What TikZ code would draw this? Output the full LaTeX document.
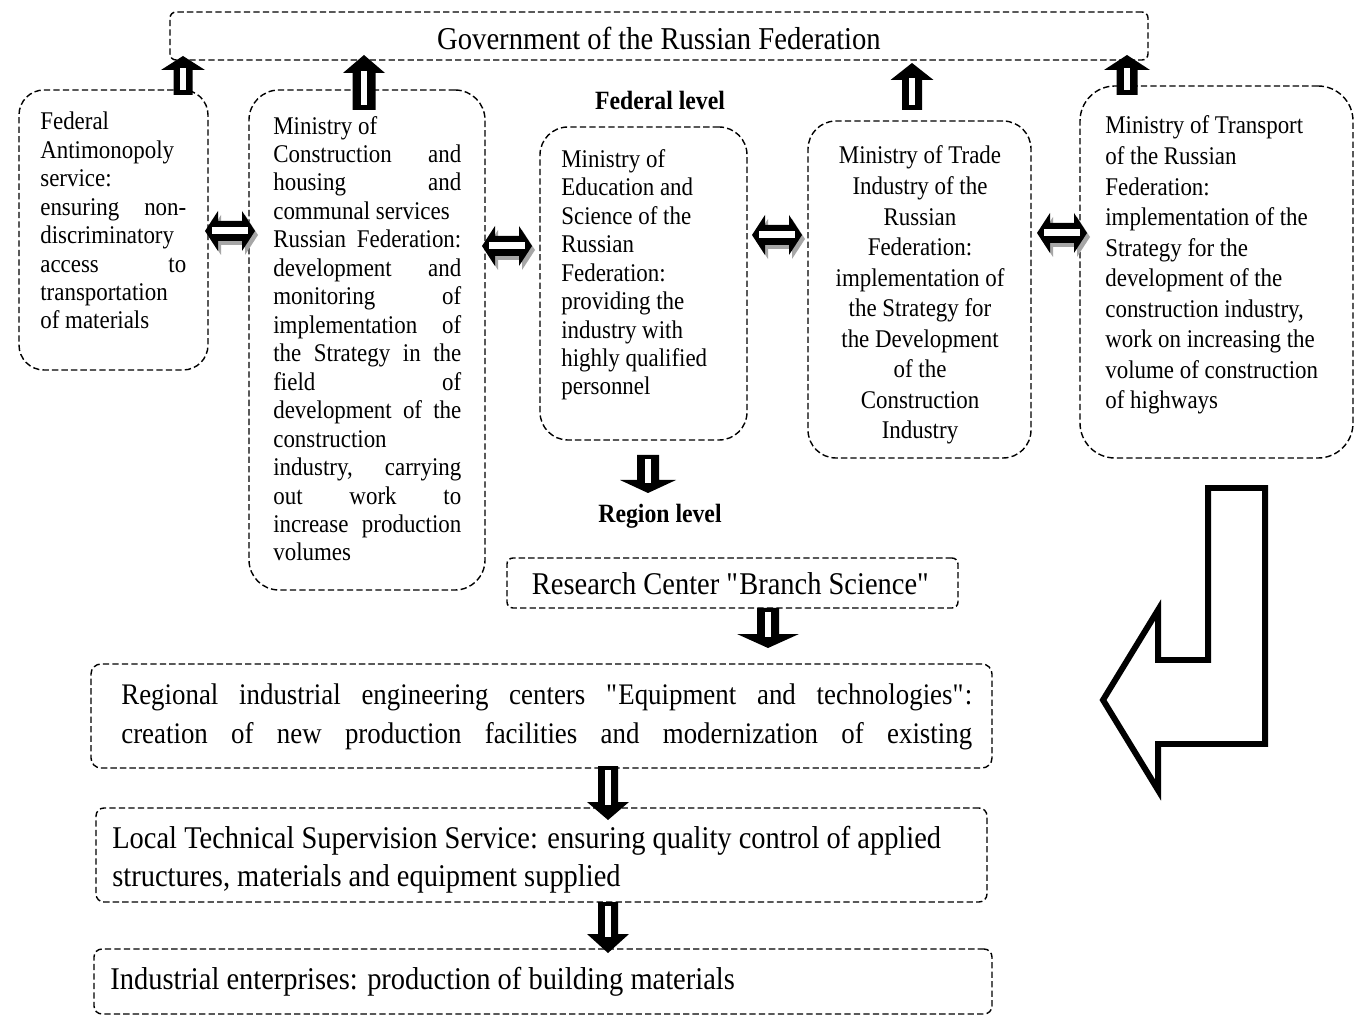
\documentclass[tikz,border=0pt]{standalone}
\usepackage{fontspec}
\setmainfont{Liberation Serif}[FakeStretch=0.9]
\usetikzlibrary{fit}

\newcommand{\ja}[1]{\makebox[2.92cm][s]{#1}}
\newcommand{\jb}[1]{\makebox[3.76cm][s]{#1}}
\newcommand{\jr}[1]{\makebox[17.02cm][s]{#1}}
\newcommand{\qq}{\textquotedbl}

% up block arrow: cx, ytip, yheadbase, ybottom, head half, shaft half
\newcommand{\blkup}[6]{%
 \fill[black] (#1-#6,#4) -- (#1-#6,#3) -- (#1-#5,#3) -- (#1,#2) -- (#1+#5,#3) -- (#1+#6,#3) -- (#1+#6,#4) -- cycle;
 \fill[white] (#1-3,#4-5) rectangle (#1+3,#3-2);
}
% down block arrow: cx, ytop, yheadbase, ytip, head half, shaft half
\newcommand{\blkdown}[6]{%
 \fill[black] (#1-#6,#2) -- (#1-#6,#3) -- (#1-#5,#3) -- (#1,#4) -- (#1+#5,#3) -- (#1+#6,#3) -- (#1+#6,#2) -- cycle;
 \fill[white] (#1-3,#2+4) rectangle (#1+3,#3+3);
}
% double horizontal block arrow with shadow: cx, cy
\newcommand{\dblshape}{(-25,0) -- (-12,-20) -- (-12,-10) -- (12,-10) -- (12,-20) -- (25,0) -- (12,20) -- (12,10) -- (-12,10) -- (-12,20) -- cycle}
\newcommand{\blkdbl}[2]{%
 \begin{scope}[shift={(#1+3,#2+4)}]
 \fill[gray!70] \dblshape;
 \end{scope}
 \begin{scope}[shift={(#1,#2)}]
 \fill[black] \dblshape;
 \fill[white] (-18,-3.5) rectangle (18,3.5);
 \end{scope}
}

\begin{document}
\begin{tikzpicture}[x=0.02cm,y=-0.02cm,
  dbox/.style={draw, dash pattern=on 3.6pt off 1.8pt, line width=0.8pt, inner sep=0pt},
  txt/.style={inner sep=0pt, font=\fontsize{14.5}{16.2}\selectfont, align=left},
  txtw/.style={inner sep=0pt, font=\fontsize{14.5}{17.4}\selectfont},
  big/.style={inner sep=0pt, font=\fontsize{18}{21.5}\selectfont, align=left},
  lvl/.style={inner sep=0pt, font=\bfseries\fontsize{15}{18}\selectfont}
]
\useasboundingbox[fill=white] (0,0) rectangle (1372,1026);

% boxes
\node[dbox, rounded corners=0.12cm, fit={(170,12) (1148,60)}] (gov) {};
\node[dbox, rounded corners=0.5cm, fit={(19,90) (208,370)}] (b1) {};
\node[dbox, rounded corners=0.6cm, fit={(249,90) (485,590)}] (b2) {};
\node[dbox, rounded corners=0.56cm, fit={(540,127) (747,440)}] (b3) {};
\node[dbox, rounded corners=0.56cm, fit={(808,121) (1031,458)}] (b4) {};
\node[dbox, rounded corners=0.7cm, fit={(1080,86) (1353,458)}] (b5) {};
\node[dbox, rounded corners=0.12cm, fit={(507,558) (958,608)}] (rc) {};
\node[dbox, rounded corners=0.2cm, fit={(91,664) (992,768)}] (reg) {};
\node[dbox, rounded corners=0.16cm, fit={(96,808) (987,902)}] (loc) {};
\node[dbox, rounded corners=0.16cm, fit={(94,949) (992,1014)}] (ind) {};

% texts (base anchor = baseline of last line)
\node[anchor=base, inner sep=0pt, font=\fontsize{18.1}{21}\selectfont] (govt) at (659,50) {Government of the Russian Federation};
\node[lvl, anchor=base] (fl) at (660,110) {Federal level};
\node[lvl, anchor=base] (rl) at (660,523) {Region level};

\node[txt, anchor=base west] (t1) at (40,329) {Federal\\ Antimonopoly\\ service:\\ \ja{ensuring non-}\\ discriminatory\\ \ja{access to}\\ transportation\\ of materials};

\node[txt, anchor=base west] (t2) at (273,561) {Ministry of\\ \jb{Construction and}\\ \jb{housing and}\\ communal services\\ \jb{Russian Federation:}\\ \jb{development and}\\ \jb{monitoring of}\\ \jb{implementation of}\\ \jb{the Strategy in the}\\ \jb{field of}\\ \jb{development of the}\\ construction\\ \jb{industry, carrying}\\ \jb{out work to}\\ \jb{increase production}\\ volumes};

\node[txt, anchor=base west] (t3) at (561,395) {Ministry of\\ Education and\\ Science of the\\ Russian\\ Federation:\\ providing the\\ industry with\\ highly qualified\\ personnel};

\node[txtw, align=center, anchor=base] (t4) at (920,439) {Ministry of Trade\\ Industry of the\\ Russian\\ Federation:\\ implementation of\\ the Strategy for\\ the Development\\ of the\\ Construction\\ Industry};

\node[txtw, align=left, anchor=base west] (t5) at (1105,409) {Ministry of Transport\\ of the Russian\\ Federation:\\ implementation of the\\ Strategy for the\\ development of the\\ construction industry,\\ work on increasing the\\ volume of construction\\ of highways};

\node[anchor=base, inner sep=0pt, font=\fontsize{18}{21}\selectfont] (rct) at (731,595) {Research Center \qq Branch Science\qq};

\node[big, anchor=base west, font=\fontsize{17}{22.1}\selectfont] (regt) at (121,743) {\jr{Regional industrial engineering centers \qq Equipment and technologies\qq:}\\ \jr{creation of new production facilities and modernization of existing}};

\node[big, anchor=base west] (loct) at (112,886) {Local Technical Supervision Service: ensuring quality control of applied\\ structures, materials and equipment supplied};

\node[big, anchor=base west] (indt) at (110,989) {Industrial enterprises: production of building materials};

% up arrows to government
\blkup{183}{56}{70}{95}{22}{9.5}
\blkup{364}{55}{73}{110}{21}{11.5}
\blkup{912}{63}{80}{110}{21.5}{10}
\blkup{1127}{55}{70}{95}{23}{10.5}

% double arrows between ministries
\blkdbl{230}{231}
\blkdbl{507}{246}
\blkdbl{777}{235}
\blkdbl{1062}{233}

% down arrows
\blkdown{648}{455}{480}{493}{28}{11}
\blkdown{768}{608}{634}{648}{31}{11}
\blkdown{608}{766}{802}{820}{21}{10}
\blkdown{608}{902}{934}{953}{21}{10}

% big L arrow
\draw[line width=3.4pt, line join=miter] (1208,488) -- (1265,488) -- (1265,744) -- (1158,744) -- (1158,790) -- (1103,700) -- (1158,610) -- (1158,660) -- (1208,660) -- cycle;
\end{tikzpicture}
\end{document}
